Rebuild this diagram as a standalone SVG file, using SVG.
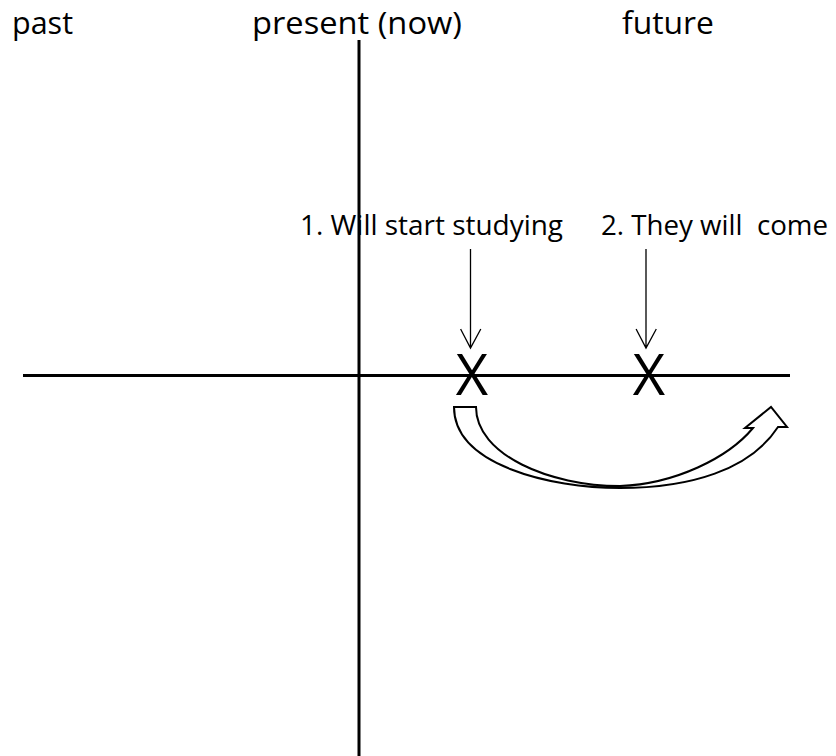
<svg xmlns="http://www.w3.org/2000/svg" width="836" height="756" viewBox="0 0 836 756">
<style>
.t{font-family:"Open Sans","Noto Sans","Liberation Sans",sans-serif;fill:#000}
.h{font-size:31px}
.l{font-size:27.5px}
.x{font-size:56px}
.axis{stroke:#000;stroke-width:3;fill:none}
.da{stroke:#000;stroke-width:1.3;fill:none}
</style>
<rect width="836" height="756" fill="#fff"/>
<g id="headers">
<text class="t h" x="12" y="34" textLength="61" lengthAdjust="spacingAndGlyphs">past</text>
<text class="t h" x="252" y="34" textLength="210" lengthAdjust="spacingAndGlyphs">present (now)</text>
<text class="t h" x="622" y="34" textLength="92" lengthAdjust="spacingAndGlyphs">future</text>
</g>
<g id="axes">
<line class="axis" x1="359" y1="40" x2="359" y2="756"/>
<line class="axis" x1="23" y1="375.5" x2="790" y2="375.5"/>
</g>
<g id="label1">
<text class="t l" x="300" y="234.5" textLength="263" lengthAdjust="spacingAndGlyphs">1. Will start studying</text>
</g>
<g id="label2">
<text class="t l" x="601" y="234.5" textLength="227" lengthAdjust="spacingAndGlyphs" xml:space="preserve">2. They will  come</text>
</g>
<g id="mark1"><text class="t x" x="472" y="395" text-anchor="middle">X</text></g>
<g id="mark2"><text class="t x" x="649" y="395" text-anchor="middle">X</text></g>
<g id="connectors">
<path class="da" d="M470.5,249 V348 M460.6,329 L470.5,348 L480.8,329"/>
<path class="da" d="M646,249 V348 M636.1,329 L646,348 L656.3,329"/>
<path fill="#fff" stroke="#000" stroke-width="2" stroke-linejoin="miter" d="M454,407 L476,407 C476,455 550,486 620,486 C675,484 728,458 753,428 L745,428 L771,407 L787,427 L778,427 C750,470 690,488 620,488 C550,488 454,465 454,407 Z"/>
</g>
</svg>
